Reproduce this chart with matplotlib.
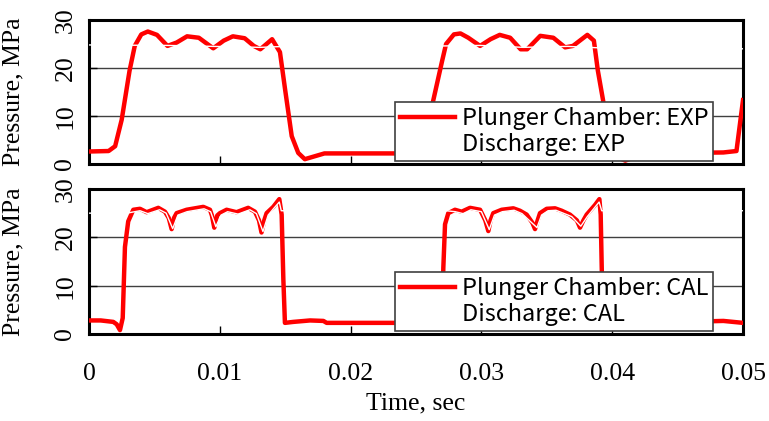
import matplotlib
matplotlib.use("Agg")
import matplotlib.pyplot as plt
from matplotlib.font_manager import FontProperties

# ------------------------------
# Data
# ------------------------------
# experiment: plunger chamber pressure
t_exp = [0.0, 0.0015, 0.0020, 0.0025, 0.0031, 0.0035, 0.0040, 0.0045, 0.0052, 0.0060,
         0.0067, 0.0075, 0.0084, 0.0095, 0.0103, 0.0110, 0.0119, 0.0126, 0.0131, 0.0140,
         0.0146, 0.0150, 0.0155, 0.0160, 0.0165, 0.0180, 0.0222, 0.0255, 0.0258, 0.0263,
         0.0270, 0.0273, 0.0279, 0.0284, 0.0290, 0.0299, 0.0307, 0.0314, 0.0322, 0.0330,
         0.0335, 0.0345, 0.0355, 0.0364, 0.0370, 0.0381, 0.0386, 0.0389, 0.0393, 0.0398,
         0.0403, 0.0410, 0.0425, 0.0485, 0.0495, 0.0500]
p_exp = [2.6, 2.7, 3.7, 9.2, 19.4, 24.6, 27.0, 27.6, 26.9, 24.6,
         25.3, 26.6, 26.3, 24.1, 25.7, 26.6, 26.2, 24.6, 23.9, 26.0,
         23.3, 15.4, 5.8, 2.3, 1.0, 2.2, 2.2, 2.2, 3.7, 13.0,
         21.5, 25.0, 27.0, 27.2, 26.3, 24.6, 26.0, 26.9, 26.3, 23.9,
         23.9, 26.7, 26.3, 24.3, 24.6, 26.9, 25.7, 19.5, 13.3, 5.0,
         1.5, 0.7, 2.2, 2.4, 2.7, 13.3]

# experiment: discharge pressure (drawn white in the original)
t_exp_d = [0.0, 0.0060, 0.0095, 0.0131, 0.0150, 0.0274, 0.0299, 0.0332, 0.0366, 0.0390, 0.0500]
p_exp_d = [24.8, 24.7, 24.5, 24.3, 24.5, 24.6, 24.7, 24.3, 24.5, 24.2, 24.0]

# calculation: plunger chamber pressure
t_cal = [0.0, 0.0009, 0.00186, 0.00212, 0.00237, 0.00258, 0.00275, 0.0030, 0.00339, 0.0039,
         0.00441, 0.0053, 0.00581, 0.0061, 0.00632, 0.0065, 0.0067, 0.00746, 0.00874, 0.00925,
         0.0094, 0.00958, 0.0098, 0.01001, 0.01052, 0.01128, 0.01217, 0.01269, 0.0130, 0.01319,
         0.0134, 0.01358, 0.01409, 0.01455, 0.01473, 0.01486, 0.01498, 0.01562, 0.0169, 0.01792,
         0.01817, 0.0265, 0.02675, 0.0270, 0.02709, 0.02722, 0.02747, 0.02798, 0.02849, 0.02913,
         0.0299, 0.0303, 0.03053, 0.0307, 0.03091, 0.03155, 0.03244, 0.03295, 0.03346, 0.0339,
         0.0341, 0.0343, 0.03448, 0.03499, 0.03563, 0.03614, 0.03677, 0.0373, 0.03754, 0.0378,
         0.03805, 0.03869, 0.03902, 0.03912, 0.0392, 0.0393, 0.0399, 0.0411, 0.0421, 0.0424,
         0.0485, 0.0500]
p_cal = [2.8, 2.8, 2.5, 2.0, 0.8, 3.3, 18.0, 23.3, 25.7, 25.9,
         25.2, 26.1, 25.3, 24.0, 21.7, 24.0, 25.0, 25.7, 26.3, 25.7,
         24.5, 22.0, 24.5, 25.0, 25.7, 25.2, 26.1, 25.3, 23.5, 21.0,
         23.5, 25.0, 26.3, 27.9, 24.7, 11.3, 2.3, 2.5, 2.8, 2.7,
         2.3, 2.3, 1.2, 3.0, 13.7, 22.7, 25.0, 25.7, 25.3, 26.1,
         25.7, 23.5, 21.3, 23.5, 25.0, 25.7, 26.0, 25.5, 24.7, 23.0,
         21.7, 23.5, 25.0, 25.9, 26.0, 25.5, 24.7, 23.5, 22.0, 23.5,
         24.7, 26.7, 27.9, 24.7, 13.7, 2.3, 2.5, 2.8, 2.7, 2.3,
         2.7, 2.3]

# calculation: discharge pressure (drawn white in the original)
t_cal_d = [0.0, 0.0029, 0.0033, 0.0039, 0.0045, 0.0054, 0.0059, 0.0064, 0.0068, 0.0075,
           0.0088, 0.0093, 0.0097, 0.0101, 0.0106, 0.0114, 0.0123, 0.0128, 0.0133, 0.0137,
           0.0141, 0.01455, 0.0147, 0.0273, 0.0280, 0.0286, 0.0292, 0.0300, 0.0306, 0.0310,
           0.0316, 0.0325, 0.0331, 0.03425, 0.0346, 0.0351, 0.0357, 0.0369, 0.0376, 0.0381,
           0.0387, 0.0390, 0.0392, 0.0500]
p_cal_d = [25.0, 25.0, 25.2, 25.5, 24.9, 25.7, 25.0, 21.8, 24.6, 25.3,
           25.9, 25.3, 22.2, 24.6, 25.3, 24.8, 25.7, 24.9, 21.2, 24.6,
           25.9, 27.3, 25.5, 25.5, 25.3, 24.9, 25.7, 25.3, 21.6, 24.6,
           25.3, 25.6, 24.9, 22.0, 24.6, 25.5, 25.6, 24.3, 22.3, 24.3,
           26.3, 27.3, 25.5, 25.5]

x_ticks = [0, 0.01, 0.02, 0.03, 0.04, 0.05]
x_labels = ["0", "0.01", "0.02", "0.03", "0.04", "0.05"]
y_ticks = [0, 10, 20, 30]

# ------------------------------
# Figure
# ------------------------------
plt.rcParams["font.family"] = "Liberation Serif"
legend_font = FontProperties(family=["Noto Sans CJK JP", "DejaVu Sans"], size=17)

fig = plt.figure(figsize=(7.69, 4.21), dpi=100)
ax1 = fig.add_axes([0.1157, 0.6105, 0.8505, 0.342])
ax2 = fig.add_axes([0.1157, 0.2067, 0.8505, 0.3444])


def style_axis(ax, show_xlabels):
    ax.set_xlim(0, 0.05)
    ax.set_ylim(0, 30)
    ax.set_xticks(x_ticks)
    ax.set_yticks(y_ticks)
    ax.set_yticklabels([str(v) for v in y_ticks], rotation=90, va="center", fontsize=18.5)
    if show_xlabels:
        ax.set_xticklabels(x_labels, fontsize=18.5)
    else:
        ax.set_xticklabels([])
    ax.tick_params(axis="both", direction="in", length=6, width=1, color="black")
    ax.tick_params(axis="x", pad=21)
    ax.tick_params(axis="y", pad=9)
    for v in [10, 20]:
        ax.axhline(v, color="#404040", lw=1.0, zorder=1)
    for side in ax.spines.values():
        side.set_linewidth(2.2)
        side.set_color("black")
    ax.set_ylabel("Pressure, MPa", fontsize=18.5)
    ax.yaxis.set_label_coords(-0.098, 0.5)


def add_legend(ax, l1, l2, names):
    leg = ax.legend([l1, l2], names, loc="lower left", bbox_to_anchor=(0.468, 0.021),
                    borderaxespad=0, prop=legend_font, handlelength=2.3,
                    handletextpad=0.3, labelspacing=0.12, borderpad=0.22,
                    fancybox=False, framealpha=1, edgecolor="#404040")
    leg.get_frame().set_linewidth(1.2)
    leg.set_zorder(5)


# top: experiment
ln1, = ax1.plot(t_exp, p_exp, color="#FF0000", lw=3.2, zorder=3, solid_joinstyle="round")
ln2, = ax1.plot(t_exp_d, p_exp_d, color="white", lw=1.0, zorder=4)
style_axis(ax1, False)
add_legend(ax1, ln1, ln2, ["Plunger Chamber: EXP", "Discharge: EXP"])

# bottom: calculation
ln3, = ax2.plot(t_cal, p_cal, color="#FF0000", lw=3.2, zorder=3, solid_joinstyle="round")
ln4, = ax2.plot(t_cal_d, p_cal_d, color="white", lw=1.0, zorder=4)
style_axis(ax2, True)
add_legend(ax2, ln3, ln4, ["Plunger Chamber: CAL", "Discharge: CAL"])
ax2.set_xlabel("Time, sec", fontsize=18.5, labelpad=5)

fig.savefig("out.png", dpi=100)
